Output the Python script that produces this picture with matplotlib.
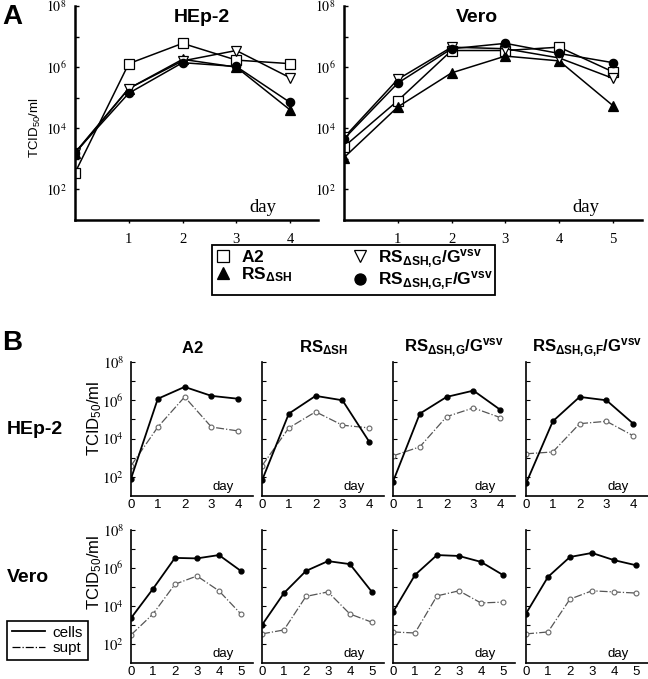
import matplotlib
matplotlib.use('Agg')
import matplotlib.pyplot as plt
from matplotlib.lines import Line2D
from matplotlib.ticker import NullFormatter

plt.rcParams['font.family'] = ['Liberation Sans', 'DejaVu Sans']
plt.rcParams['mathtext.fontset'] = 'custom'
plt.rcParams['mathtext.rm'] = 'Liberation Sans'
plt.rcParams['mathtext.bf'] = 'Liberation Sans:bold'
plt.rcParams['mathtext.it'] = 'Liberation Sans:italic'
plt.rcParams['mathtext.sf'] = 'Liberation Sans'

# ---------------- Panel A data (TCID50/ml) ----------------
days_hep = [0, 1, 2, 3, 4]
days_vero = [0, 1, 2, 3, 4, 5]

hep_A2 = [3.5e2, 1.3e6, 6.0e6, 1.7e6, 1.3e6]
hep_dSH = [1.6e3, 2.0e5, 1.8e6, 1.0e6, 4.0e4]
hep_dSH_G = [1.5e3, 2.0e5, 1.6e6, 3.5e6, 4.5e5]
hep_dSH_GF = [1.6e3, 1.4e5, 1.4e6, 1.05e6, 7.0e4]

vero_A2 = [2.5e3, 8.0e4, 3.5e6, 3.5e6, 4.5e6, 7.0e5]
vero_dSH = [1.1e3, 5.0e4, 6.5e5, 2.3e6, 1.6e6, 5.5e4]
vero_dSH_G = [5.0e3, 4.0e5, 4.5e6, 4.0e6, 2.0e6, 4.3e5]
vero_dSH_GF = [4.5e3, 3.0e5, 4.0e6, 6.0e6, 2.8e6, 1.4e6]

strain_labels = [r'$\mathbf{A2}$',
                 r'$\mathbf{RS}_{\mathbf{ΔSH}}$',
                 r'$\mathbf{RS}_{\mathbf{ΔSH{,}G}}\mathbf{/G}^{\mathbf{vsv}}$',
                 r'$\mathbf{RS}_{\mathbf{ΔSH{,}G{,}F}}\mathbf{/G}^{\mathbf{vsv}}$']
cell_lines = ['HEp-2', 'Vero']

# ---------------- Panel B data (cells / supernatant) ----------------
B_hep_cells = {
    'A2':     [80, 1.2e6, 5.0e6, 1.7e6, 1.2e6],
    'dSH':    [65, 2.0e5, 1.7e6, 1.0e6, 6.8e3],
    'dSH_G':  [56, 2.0e5, 1.5e6, 3.2e6, 3.2e5],
    'dSH_GF': [45, 8.0e4, 1.5e6, 1.0e6, 6.0e4],
}
B_hep_supt = {
    'A2':     [3.8e2, 4.0e4, 1.5e6, 4.0e4, 2.5e4],
    'dSH':    [3.8e2, 3.6e4, 2.5e5, 5.0e4, 3.6e4],
    'dSH_G':  [1.25e3, 3.7e3, 1.4e5, 4.0e5, 1.25e5],
    'dSH_GF': [1.6e3, 2.0e3, 6.0e4, 8.0e4, 1.4e4],
}
B_vero_cells = {
    'A2':     [2.3e3, 8.0e4, 3.4e6, 3.2e6, 4.8e6, 7.0e5],
    'dSH':    [1.0e3, 4.8e4, 7.0e5, 2.3e6, 1.6e6, 5.5e4],
    'dSH_G':  [4.8e3, 4.3e5, 4.8e6, 4.3e6, 2.1e6, 4.3e5],
    'dSH_GF': [4.0e3, 3.4e5, 3.8e6, 6.2e6, 2.6e6, 1.4e6],
}
B_vero_supt = {
    'A2':     [3.0e2, 3.8e3, 1.4e5, 3.8e5, 6.3e4, 3.8e3],
    'dSH':    [3.4e2, 5.5e2, 3.2e4, 5.5e4, 3.8e3, 1.4e3],
    'dSH_G':  [4.3e2, 3.8e2, 3.4e4, 6.3e4, 1.45e4, 1.6e4],
    'dSH_GF': [3.4e2, 4.3e2, 2.3e4, 6.3e4, 5.5e4, 4.8e4],
}
strain_keys = ['A2', 'dSH', 'dSH_G', 'dSH_GF']

ytick_major = [1e2, 1e4, 1e6, 1e8]
ytick_labels = [r'$10^{2}$', r'$10^{4}$', r'$10^{6}$', r'$10^{8}$']
ytick_all = [1e2, 1e3, 1e4, 1e5, 1e6, 1e7, 1e8]

W, H = 648, 679
fig = plt.figure(figsize=(W / 100, H / 100), dpi=100)


def fx(px):
    return px / W


def fy(py):
    return 1 - py / H


# ---------------- Panel A ----------------
styles = [dict(marker='s', mfc='white', mec='k', ms=6.5, mew=0.9),
          dict(marker='^', mfc='k', mec='k', ms=6.5, mew=0.9),
          dict(marker='v', mfc='white', mec='k', ms=7.5, mew=0.9),
          dict(marker='o', mfc='k', mec='k', ms=6, mew=0.9)]

axA1 = fig.add_axes([fx(75), fy(220), fx(243), 214 / H])
axA2 = fig.add_axes([fx(344), fy(220), fx(298), 214 / H])

for ax, days, series, xmax, daypos, title, tx in [
        (axA1, days_hep, [hep_A2, hep_dSH, hep_dSH_G, hep_dSH_GF], 4.52, 0.774, 'HEp-2', 202),
        (axA2, days_vero, [vero_A2, vero_dSH, vero_dSH_G, vero_dSH_GF], 5.54, 0.812, 'Vero', 477)]:
    for vals, st in zip(series, styles):
        ax.plot(days, vals, color='k', lw=1.1, **st)
    ax.set_yscale('log')
    ax.set_ylim(10, 1e8)
    ax.set_xlim(0, xmax)
    ax.set_yticks(ytick_major)
    ax.set_yticklabels(ytick_labels, fontsize=10, math_fontfamily='stix')
    ax.set_yticks([1e3, 1e5, 1e7], minor=True)
    ax.yaxis.set_minor_formatter(NullFormatter())
    ax.set_xticks(days[1:])
    ax.set_xticklabels([str(d) for d in days[1:]], fontsize=10.5,
                       fontfamily='Liberation Serif')
    ax.tick_params(axis='y', which='both', direction='in', length=3, width=1, pad=6)
    ax.tick_params(axis='x', direction='out', length=2.5, width=1, pad=7)
    for s in ['top', 'right']:
        ax.spines[s].set_visible(False)
    for s in ['left', 'bottom']:
        ax.spines[s].set_linewidth(1.8)
    ax.text(daypos, 0.06, 'day', transform=ax.transAxes, ha='center', va='center',
            fontsize=13.5, fontfamily='Liberation Serif')
    fig.text(fx(tx), fy(17), title, ha='center', va='center', fontsize=14,
             fontweight='bold')

fig.text(fx(12), fy(17), 'A', ha='center', va='center', fontsize=20, fontweight='bold')
fig.text(fx(35), fy(128), r'TCID$_{50}$/ml', rotation=90, ha='center', va='center',
         fontsize=9.5)

handlesA = [Line2D([], [], ls='none', **st) for st in styles]
for h in handlesA:
    h.set_markersize(8)
fig.legend(handlesA, strain_labels, loc='lower left', ncol=2, mode='expand',
           bbox_to_anchor=(fx(212), fy(295), fx(283), 48 / H),
           frameon=True, fancybox=False, edgecolor='k', framealpha=1,
           fontsize=12.5, handlelength=1.0, handletextpad=0.5,
           labelspacing=0.0, borderpad=0.15, borderaxespad=0, columnspacing=1.0)
fig.legends[-1].get_frame().set_linewidth(1.3)

# ---------------- Panel B ----------------
col_left = [131, 262, 393, 526]
rows = [(496, 134, days_hep, B_hep_cells, B_hep_supt, 4.55),
        (663, 133, days_vero, B_vero_cells, B_vero_supt, 5.55)]

for r, (ybot, hgt, days, cells, supt, xmax) in enumerate(rows):
    for c, key in enumerate(strain_keys):
        ax = fig.add_axes([fx(col_left[c]), fy(ybot), fx(122), hgt / H])
        ax.plot(days, supt[key], color='#555555', lw=0.9, ls='-.', marker='o',
                ms=3.5, mfc='white', mec='#666666', mew=0.8)
        ax.plot(days, cells[key], color='k', lw=1.3, marker='o', ms=3.5,
                mfc='k', mec='k')
        ax.set_yscale('log')
        ax.set_ylim(10, 1e8)
        ax.set_xlim(0, xmax)
        ax.set_yticks(ytick_all)
        ax.set_yticks([], minor=True)
        if c == 0:
            ax.set_yticklabels(['' if v not in ytick_major else
                                ytick_labels[ytick_major.index(v)] for v in ytick_all],
                               fontsize=10.5, math_fontfamily='stix')
        else:
            ax.set_yticklabels([])
        ax.set_xticks(days)
        ax.set_xticklabels([str(d) for d in days], fontsize=9.5)
        ax.tick_params(axis='y', direction='in', length=3, width=0.8, pad=5)
        ax.tick_params(axis='x', direction='out', length=0, pad=2.5)
        for s in ['top', 'right']:
            ax.spines[s].set_visible(False)
        for s in ['left', 'bottom']:
            ax.spines[s].set_linewidth(1.2)
        ax.text(0.755, 0.07, 'day', transform=ax.transAxes, ha='center',
                va='center', fontsize=9.5)
        if r == 0:
            fig.text(fx(col_left[c] + 61), fy(348), strain_labels[c], ha='center',
                     va='center', fontsize=12)

fig.text(fx(12), fy(343), 'B', ha='center', va='center', fontsize=20, fontweight='bold')
fig.text(fx(7), fy(430), cell_lines[0], ha='left', va='center', fontsize=14,
         fontweight='bold')
fig.text(fx(7), fy(578), cell_lines[1], ha='left', va='center', fontsize=14,
         fontweight='bold')
fig.text(fx(95), fy(418), r'TCID$_{50}$/ml', rotation=90, ha='center', va='center',
         fontsize=12)
fig.text(fx(95), fy(572), r'TCID$_{50}$/ml', rotation=90, ha='center', va='center',
         fontsize=12)

handlesB = [Line2D([], [], color='k', lw=1.3),
            Line2D([], [], color='k', lw=0.9, ls='-.')]
fig.legend(handlesB, ['cells', 'supt'], loc='upper left',
           bbox_to_anchor=(fx(7), fy(621)), frameon=True, fancybox=False,
           edgecolor='k', framealpha=1, fontsize=11, handlelength=2.2,
           handletextpad=0.5, labelspacing=0.1, borderpad=0.3, borderaxespad=0)
fig.legends[-1].get_frame().set_linewidth(1.2)

fig.savefig('out.png', dpi=100)
